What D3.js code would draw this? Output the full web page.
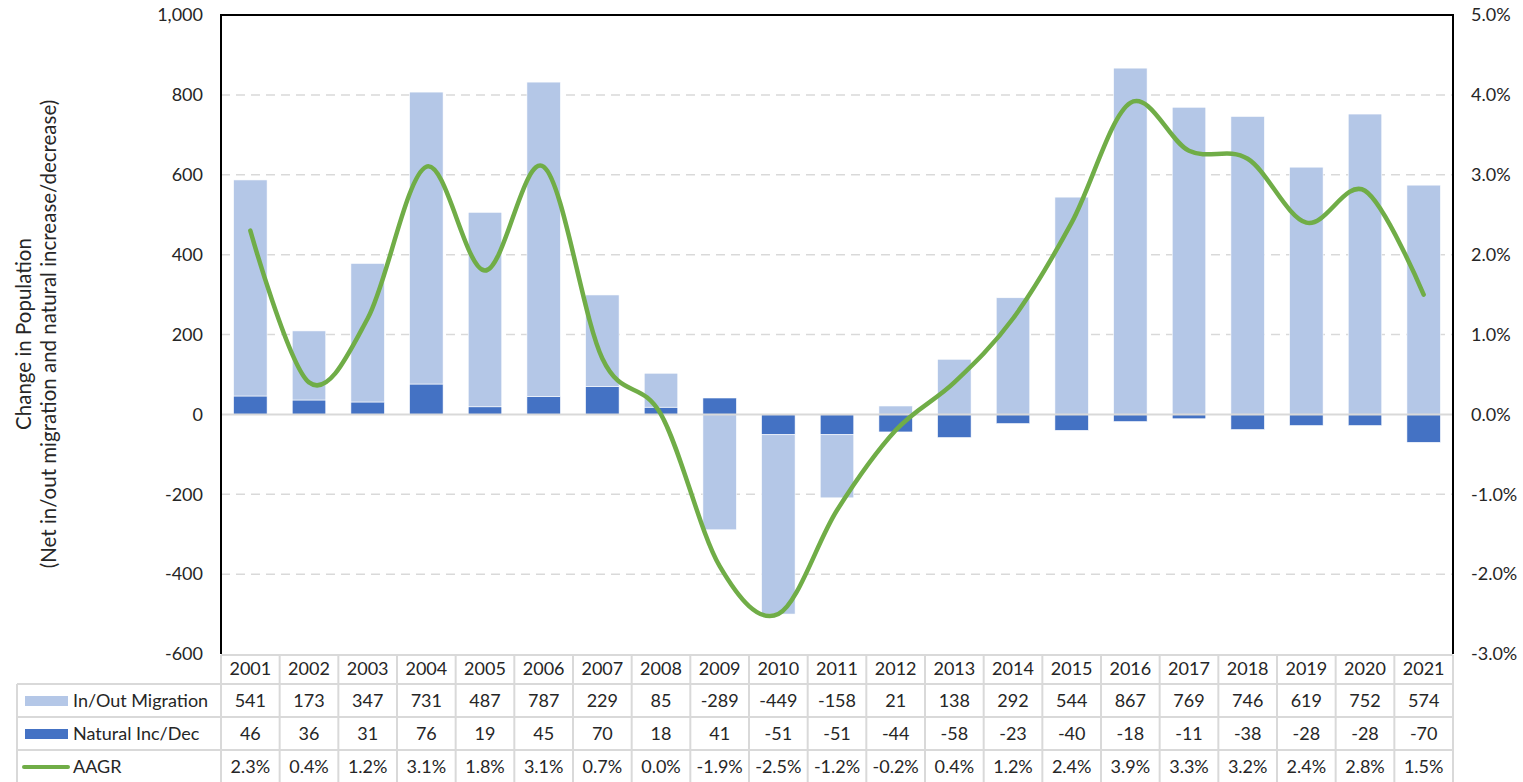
<!DOCTYPE html>
<html>
<head>
<meta charset="utf-8">
<script src="https://cdn.jsdelivr.net/npm/d3@7"></script>
<style>
  body { margin: 0; background: #fff; }
  text { font-family: Lato, "Noto Sans", sans-serif; fill: #262626; }
</style>
</head>
<body>
<div id="chart"></div>
<script>
// data
const years = ["2001","2002","2003","2004","2005","2006","2007","2008","2009","2010","2011",
               "2012","2013","2014","2015","2016","2017","2018","2019","2020","2021"];
const migration = [541, 173, 347, 731, 487, 787, 229, 85, -289, -449, -158,
                   21, 138, 292, 544, 867, 769, 746, 619, 752, 574];
const natural = [46, 36, 31, 76, 19, 45, 70, 18, 41, -51, -51,
                 -44, -58, -23, -40, -18, -11, -38, -28, -28, -70];
const aagr = [2.3, 0.4, 1.2, 3.1, 1.8, 3.1, 0.7, 0.0, -1.9, -2.5, -1.2,
              -0.2, 0.4, 1.2, 2.4, 3.9, 3.3, 3.2, 2.4, 2.8, 1.5];
const leftTicks = [1000, 800, 600, 400, 200, 0, -200, -400, -600];
const rightTicks = [5, 4, 3, 2, 1, 0, -1, -2, -3];

const W = 1523, H = 782;
const plot = {left: 221, right: 1453, top: 15, bottom: 654};
const tableLeft = 17;
const rowLines = [654, 684, 717, 750, 783];
const fs = 18;

const colMig = "#b4c7e7", colNat = "#4472c4", colLine = "#70ad47", grid = "#d9d9d9";

const svg = d3.select("#chart").append("svg")
  .attr("width", W).attr("height", H);

const x = d3.scaleBand().domain(years).range([plot.left, plot.right]).padding(0);
const barW = x.bandwidth() / 1.75;
const y = d3.scaleLinear().domain([-600, 1000]).range([plot.bottom, plot.top]);
const y2 = d3.scaleLinear().domain([-3, 5]).range([plot.bottom, plot.top]);

// gridlines
svg.append("g").selectAll("line")
  .data(leftTicks.filter(d => d !== 0 && d !== 1000 && d !== -600))
  .join("line")
  .attr("x1", plot.left).attr("x2", plot.right)
  .attr("y1", d => y(d)).attr("y2", d => y(d))
  .attr("stroke", grid).attr("stroke-width", 1.5)
  .attr("stroke-dasharray", "9,6");

// stacked bars (natural closest to zero, migration stacked on top)
const rows = years.map((yr, i) => ({year: yr, natural: natural[i], migration: migration[i]}));
const series = d3.stack().keys(["natural", "migration"])
  .offset(d3.stackOffsetDiverging)(rows);
const colors = {natural: colNat, migration: colMig};

svg.append("g").selectAll("g")
  .data(series)
  .join("g")
  .attr("fill", d => colors[d.key])
  .selectAll("rect")
  .data(d => d)
  .join("rect")
  .attr("x", d => x(d.data.year) + (x.bandwidth() - barW) / 2)
  .attr("width", barW)
  .attr("y", d => y(Math.max(d[0], d[1])))
  .attr("height", d => Math.abs(y(d[0]) - y(d[1])))
  .attr("stroke", "#fff").attr("stroke-width", 0.6);

// zero line
svg.append("line")
  .attr("x1", plot.left).attr("x2", plot.right)
  .attr("y1", y(0)).attr("y2", y(0))
  .attr("stroke", grid).attr("stroke-width", 2);

// AAGR smoothed line
const line = d3.line()
  .x((d, i) => x(years[i]) + x.bandwidth() / 2)
  .y(d => y2(d))
  .curve(d3.curveCardinal.tension(0));
svg.append("path")
  .datum(aagr)
  .attr("d", line)
  .attr("fill", "none")
  .attr("stroke", colLine).attr("stroke-width", 4.5)
  .attr("stroke-linecap", "round").attr("stroke-linejoin", "round");

// plot frame
svg.append("path")
  .attr("d", `M${plot.left},${plot.bottom}V${plot.top}H${plot.right}V${plot.bottom}`)
  .attr("fill", "none").attr("stroke", "#000").attr("stroke-width", 2);

// left axis labels
svg.append("g").selectAll("text")
  .data(leftTicks).join("text")
  .attr("x", 203).attr("y", d => y(d))
  .attr("dy", "0.35em").attr("text-anchor", "end")
  .attr("font-size", fs)
  .text(d => d3.format(",")(d).replace("−", "-"));

// right axis labels
svg.append("g").selectAll("text")
  .data(rightTicks).join("text")
  .attr("x", 1471).attr("y", d => y2(d))
  .attr("dy", "0.35em").attr("text-anchor", "start")
  .attr("font-size", fs)
  .text(d => d.toFixed(1).replace("−", "-") + "%");

// y axis title
const title = svg.append("g").attr("transform", "translate(0,334) rotate(-90)");
title.append("text").attr("x", 0).attr("y", 31).attr("text-anchor", "middle")
  .attr("font-size", 20.5).text("Change in Population");
title.append("text").attr("x", 0).attr("y", 56).attr("text-anchor", "middle")
  .attr("font-size", 20.5).text("(Net in/out migration and natural increase/decrease)");

// data table
const table = svg.append("g");
// horizontal lines
table.selectAll("line.h")
  .data(rowLines.slice(1))
  .join("line")
  .attr("x1", tableLeft).attr("x2", plot.right)
  .attr("y1", d => d).attr("y2", d => d)
  .attr("stroke", grid).attr("stroke-width", 2);
table.append("line")
  .attr("x1", plot.left).attr("x2", plot.right)
  .attr("y1", rowLines[0] + 1).attr("y2", rowLines[0] + 1)
  .attr("stroke", grid).attr("stroke-width", 2);
// vertical lines
const colEdges = years.map(d => x(d)).concat([plot.right]);
table.selectAll("line.v")
  .data(colEdges)
  .join("line")
  .attr("x1", d => d).attr("x2", d => d)
  .attr("y1", rowLines[0] + 1)
  .attr("y2", H)
  .attr("stroke", grid).attr("stroke-width", 2);
table.append("line")
  .attr("x1", tableLeft).attr("x2", tableLeft)
  .attr("y1", rowLines[1]).attr("y2", H)
  .attr("stroke", grid).attr("stroke-width", 2);
// redraw axis lines over the table top
svg.append("line").attr("x1", plot.left).attr("x2", plot.left)
  .attr("y1", plot.top).attr("y2", plot.bottom).attr("stroke", "#000").attr("stroke-width", 2);
svg.append("line").attr("x1", plot.right).attr("x2", plot.right)
  .attr("y1", plot.top).attr("y2", plot.bottom).attr("stroke", "#000").attr("stroke-width", 2);

const rowCenters = [669, 701, 734, 767];
const tableRows = [
  years,
  migration.map(String),
  natural.map(String),
  aagr.map(d => d.toFixed(1) + "%")
];
tableRows.forEach((vals, r) => {
  table.append("g").selectAll("text")
    .data(vals).join("text")
    .attr("x", (d, i) => x(years[i]) + x.bandwidth() / 2)
    .attr("y", rowCenters[r]).attr("dy", "0.35em")
    .attr("text-anchor", "middle").attr("font-size", fs)
    .text(d => d);
});

// legend keys in the table
const keys = [
  {name: "In/Out Migration", type: "rect", color: colMig},
  {name: "Natural Inc/Dec", type: "rect", color: colNat},
  {name: "AAGR", type: "line", color: colLine}
];
keys.forEach((k, i) => {
  const cy = rowCenters[i + 1];
  if (k.type === "rect") {
    table.append("rect").attr("x", 25).attr("y", cy - 5).attr("width", 43).attr("height", 10)
      .attr("fill", k.color);
  } else {
    table.append("line").attr("x1", 24).attr("x2", 68).attr("y1", cy).attr("y2", cy)
      .attr("stroke", k.color).attr("stroke-width", 4).attr("stroke-linecap", "round");
  }
  table.append("text").attr("x", 73).attr("y", cy).attr("dy", "0.35em")
    .attr("font-size", fs).text(k.name);
});
</script>
</body>
</html>
